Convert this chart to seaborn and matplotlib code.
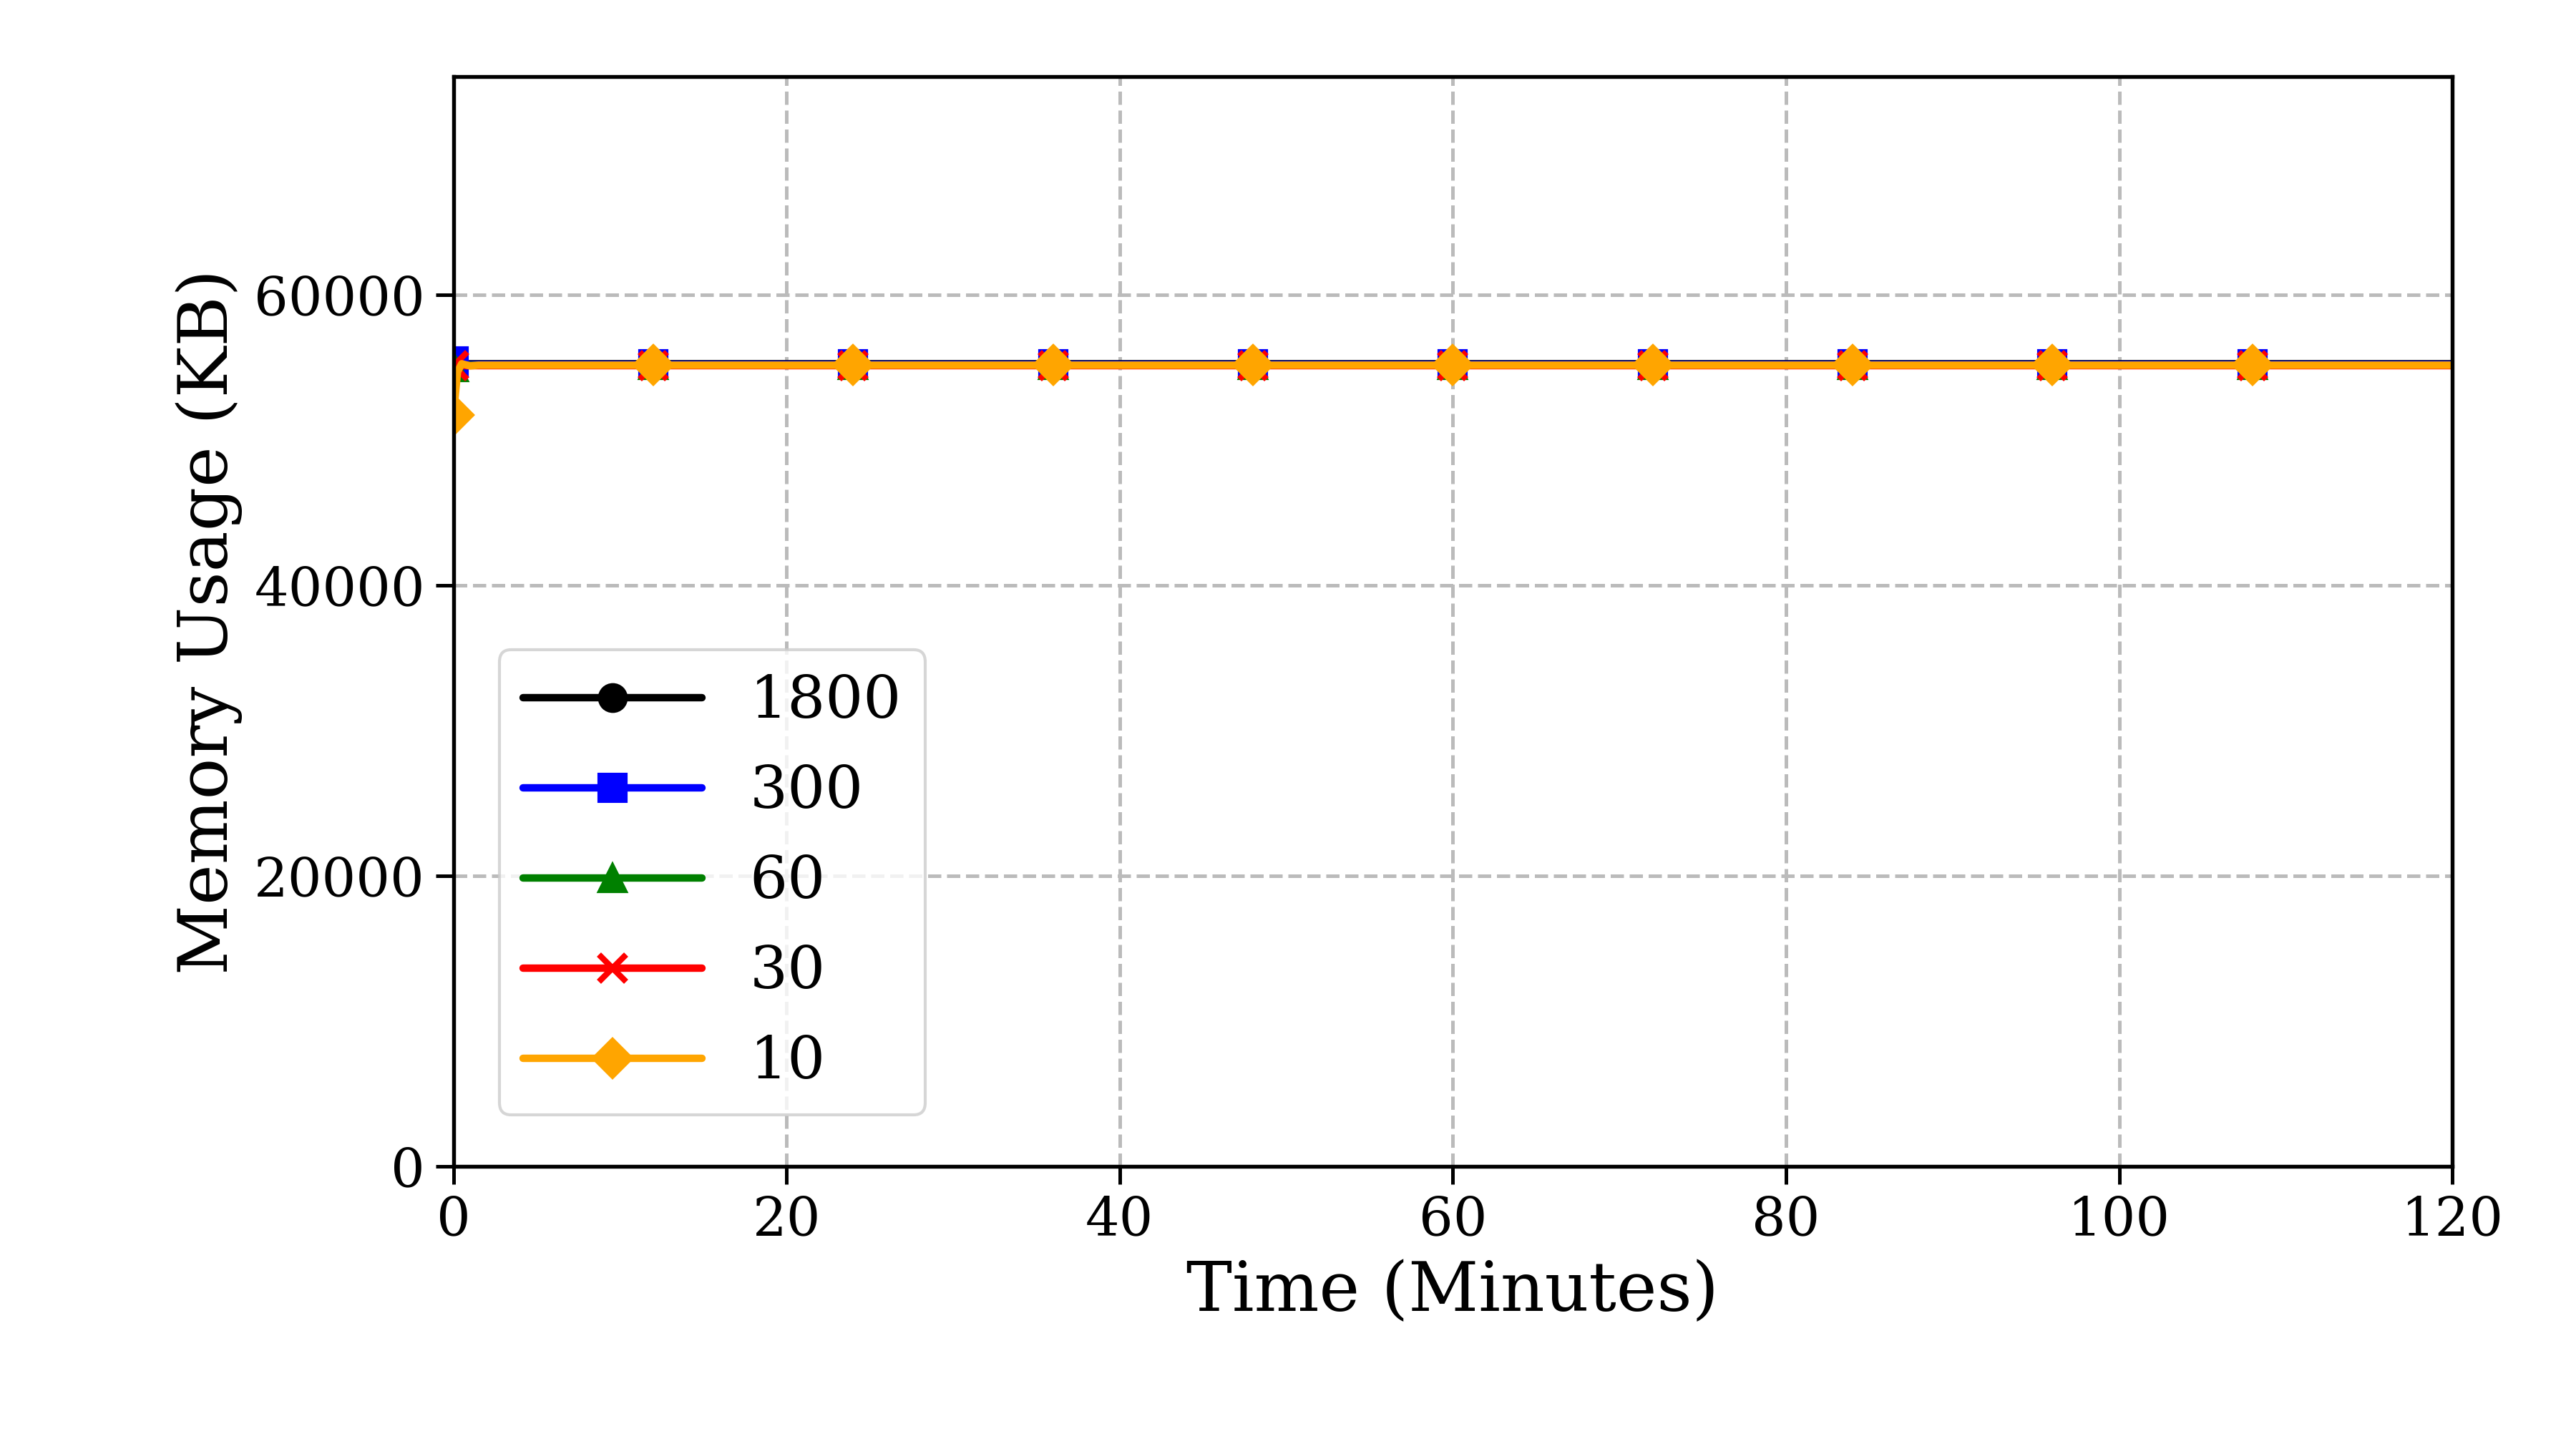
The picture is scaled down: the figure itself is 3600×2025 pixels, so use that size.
import numpy as np
import pandas as pd
import matplotlib
matplotlib.use("Agg")
import matplotlib.pyplot as plt
import seaborn as sns

sns.set_style("ticks")
plt.rcParams['font.family'] = ['DejaVu Serif']

# Tempo (minutos): amostras iniciais densas, depois a cada 12 min
time_min = [0, 0.25, 0.5, 1, 1.5, 2, 12, 24, 36, 48, 60, 72, 84, 96, 108, 120]
marker_idx = [0, 6, 7, 8, 9, 10, 11, 12, 13, 14]

labels = ["1800", "300", "60", "30", "10"]
colors = ["black", "blue", "green", "red", "orange"]
markers = ["o", "s", "^", "x", "D"]

mem_1800 = [55300, 55300, 55250, 55250, 55250, 55250, 55250, 55250, 55250, 55250, 55250, 55250, 55250, 55250, 55250, 55250]
mem_300 = [55400, 55200, 55200, 55200, 55200, 55200, 55200, 55200, 55200, 55200, 55200, 55200, 55200, 55200, 55200, 55200]
mem_60 = [55000, 55150, 55150, 55150, 55150, 55150, 55150, 55150, 55150, 55150, 55150, 55150, 55150, 55150, 55150, 55150]
mem_30 = [55100, 55100, 55100, 55100, 55100, 55100, 55100, 55100, 55100, 55100, 55100, 55100, 55100, 55100, 55100, 55100]
mem_10 = [51700, 54700, 55250, 55100, 55150, 55150, 55150, 55150, 55150, 55150, 55150, 55150, 55150, 55150, 55150, 55150]
series = [mem_1800, mem_300, mem_60, mem_30, mem_10]

fig, ax = plt.subplots(figsize=(12, 6.75), dpi=300)
fig.subplots_adjust(left=0.176, right=0.952, top=0.947, bottom=0.195)

for lab, col, mk, vals in zip(labels, colors, markers, series):
    df = pd.DataFrame({"t": time_min, "m": vals})
    sns.lineplot(data=df, x="t", y="m", ax=ax, color=col, marker=mk,
                 markevery=marker_idx, markersize=9, linewidth=2.5,
                 markeredgecolor=col, markeredgewidth=2 if mk == "x" else 1,
                 label=lab)

ax.set_xlim(0, 120)
ax.set_ylim(0, 75000)
ax.set_xticks(range(0, 121, 20))
ax.set_yticks(range(0, 60001, 20000))
ax.tick_params(labelsize=18, color="black", width=1.2, length=6, labelcolor="black")
for s in ax.spines.values():
    s.set_color("black")
    s.set_linewidth(1.3)
ax.set_xlabel("Time (Minutes)", fontsize=23, color="black")
ax.set_ylabel("Memory Usage (KB)", fontsize=23, color="black")
ax.grid(True, linestyle="--", color="#bbbbbb", linewidth=1.2)
leg = ax.legend(loc="lower left", bbox_to_anchor=(0.008, 0.02), fontsize=20,
                handlelength=3, labelspacing=0.55)
for t in leg.get_texts():
    t.set_color("black")

plt.savefig("out.png", dpi=300)
